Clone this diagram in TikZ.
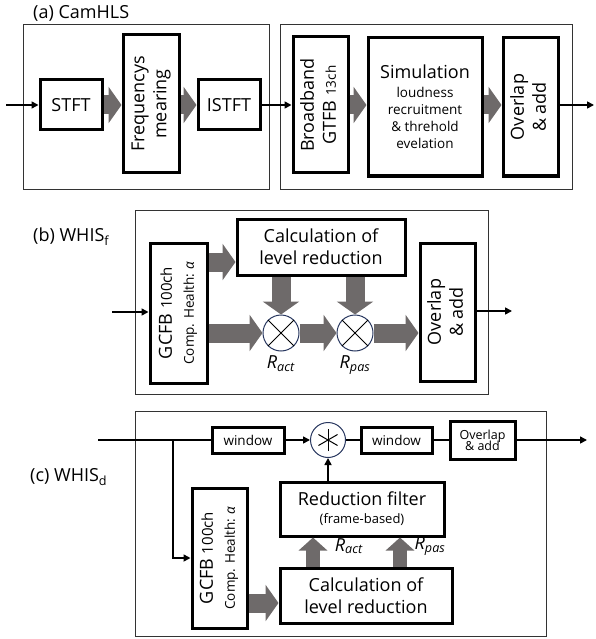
\documentclass[tikz,border=0pt]{standalone}
\usepackage{fontspec}
\setmainfont{Open Sans}
\usepackage{graphicx}
\usetikzlibrary{arrows.meta,positioning}

\definecolor{fatgray}{RGB}{110,106,106}
\definecolor{ringblue}{RGB}{40,55,95}

\newcommand\bigtxt{\fontsize{18}{22}\selectfont}
\newcommand\midtxt{\fontsize{15}{18}\selectfont}
\newcommand\smalltxt{\fontsize{13.5}{17}\selectfont}
\newcommand\tinytxt{\fontsize{12.5}{15}\selectfont}
\newcommand\vtext[1]{\rotatebox{90}{\begin{tabular}{@{}c@{}}#1\end{tabular}}}

\tikzset{
  box/.style={draw, line width=3pt, fill=white, inner sep=0pt, font=\bigtxt, align=center},
  panel/.style={draw=black!80, line width=0.9pt},
  fat/.style={draw=fatgray, line width=19pt, -{Triangle[length=13pt,width=36pt]}},
  fatup/.style={draw=fatgray, line width=14pt, -{Triangle[length=13pt,width=28pt]}},
  sig/.style={line width=1.6pt, -{Triangle[length=7pt,width=7pt]}},
  wire/.style={line width=1.6pt},
  mult/.style={circle, draw=ringblue, line width=1pt, minimum size=36pt, inner sep=0pt},
  title/.style={anchor=west, inner sep=0pt, font=\bigtxt}
}

\begin{document}
\begin{tikzpicture}[x=1pt,y=-1pt]
\useasboundingbox (0,0) rectangle (596,639);

% (a) CamHLS
\draw[panel] (23,24) rectangle (269,189);
\draw[panel] (280,24) rectangle (572,189);
\node[title] (title-a) at (33,13) {(a) CamHLS};
\node[box, minimum width=62pt, minimum height=50pt] (stft) at (71,105) {STFT};
\node[box, minimum width=56pt, minimum height=138pt] (freq) at (151,104) {\vtext{Frequencys\\mearing}};
\node[box, minimum width=62pt, minimum height=50pt] (istft) at (229,105) {ISTFT};
\node[box, minimum width=55pt, minimum height=136pt] (bband) at (320.5,105) {\vtext{Broadband\\GTFB {\smalltxt 13ch}}};
\node[box, minimum width=114pt, minimum height=138pt] (simu) at (425,107)
  {Simulation\\[-3pt]{\smalltxt loudness}\\[-5pt]{\smalltxt recruitment}\\[-5pt]{\smalltxt \& threhold}\\[-5pt]{\smalltxt evelation}};
\node[box, minimum width=55pt, minimum height=138pt] (ovl-a) at (530.5,107) {\vtext{Overlap\\\& add}};
\coordinate (in-a) at (6,105);
\coordinate (out-a) at (594,105);

\draw[sig] (in-a) -- (stft.west);
\draw[fat] (stft.east) -- (stft.east -| freq.west);
\draw[fat] (freq.east |- istft) -- (istft.west);
\draw[sig] (istft.east) -- (istft.east -| bband.west);
\draw[fat] (bband.east) -- (bband.east -| simu.west);
\draw[fat] (simu.east |- bband) -- (ovl-a.west |- bband);
\draw[sig] (ovl-a.east |- bband) -- (out-a);

% (b) WHIS_f
\draw[panel] (135,210) rectangle (488,394);
\node[title] (title-b) at (33,237) {(b) WHIS\textsubscript{f}};
\node[box, minimum width=57pt, minimum height=140pt] (gcfb-b) at (178.5,313)
  {\vtext{GCFB {\midtxt 100ch}\\\smalltxt Comp. Health: \textit{α}}};
\node[box, minimum width=168pt, minimum height=56pt] (calc-b) at (321,247) {Calculation of\\level reduction};
\node[mult] (mult1) at (281,333) {};
\node[mult] (mult2) at (355,333) {};
\node[box, minimum width=55pt, minimum height=138pt] (ovl-b) at (447.5,312) {\vtext{Overlap\\\& add}};
\node[font=\bigtxt, below=1pt of mult1] (ract-b) {\textit{R}\textsubscript{\textit{act}}};
\node[font=\bigtxt, below=1pt of mult2] (rpas-b) {\textit{R}\textsubscript{\textit{pas}}};
\coordinate (in-b) at (112,312);
\coordinate (out-b) at (512,311);
\coordinate (y262) at (0,262);

\foreach \m in {mult1,mult2}
  \draw[line width=1pt] (\m.north west) -- (\m.south east) (\m.north east) -- (\m.south west);
\draw[sig] (in-b) -- (in-b -| gcfb-b.west);
\draw[fat] (gcfb-b.east |- y262) -- (calc-b.west |- y262);
\draw[fat] (gcfb-b.east |- mult1) -- (mult1.west);
\draw[fat] (calc-b.south -| mult1) -- (mult1.north);
\draw[fat] (calc-b.south -| mult2) -- (mult2.north);
\draw[fat] (mult1.east) -- (mult2.west);
\draw[fat] (mult2.east) -- (mult2 -| ovl-b.west);
\draw[sig] (ovl-b.east |- out-b) -- (out-b);

% (c) WHIS_d
\draw[panel] (135,411) rectangle (546,636);
\node[title] (title-c) at (30,477) {(c) WHIS\textsubscript{d}};
\node[box, font=\smalltxt, minimum width=72pt, minimum height=26pt] (win1) at (248,440) {window};
\node[mult, minimum size=35pt] (conv) at (328,440) {};
\node[box, font=\smalltxt, minimum width=71pt, minimum height=26pt] (win2) at (396.5,440) {window};
\node[box, font=\tinytxt, minimum width=65pt, minimum height=38pt] (ovl-c) at (482.5,440) {Overlap\\[-4pt]\& add};
\node[box, minimum width=164pt, minimum height=54pt] (redf) at (362,509) {Reduction filter\\[-4pt]{\fontsize{13}{15}\selectfont (frame-based)}};
\node[box, minimum width=172pt, minimum height=55pt] (calc-c) at (366,595.5) {Calculation of\\level reduction};
\node[box, minimum width=55pt, minimum height=140pt] (gcfb-c) at (219.5,558)
  {\vtext{GCFB {\midtxt 100ch}\\\smalltxt Comp. Health: \textit{α}}};
\node[font=\bigtxt] (ract-c) at (349,546) {\textit{R}\textsubscript{\textit{act}}};
\node[font=\bigtxt] (rpas-c) at (430,546) {\textit{R}\textsubscript{\textit{pas}}};
\coordinate (in-c) at (98,440);
\coordinate (split) at (173,440);
\coordinate (out-c) at (587,440);
\coordinate (up1) at (313,0);
\coordinate (up2) at (400,0);
\coordinate (y603) at (0,603);

\foreach \a in {90,30,150}
  \draw[line width=1pt] (conv.center) +(\a:11) -- +(\a+180:11);
\draw[wire] (in-c) -- (win1.west);
\draw[sig] (split) |- (gcfb-c.west);
\draw[sig] (win1.east) -- (conv.west);
\draw[wire] (conv.east) -- (win2.west);
\draw[wire] (win2.east) -- (ovl-c.west);
\draw[sig] (ovl-c.east) -- (out-c);
\draw[sig] (redf.north -| conv) -- (conv.south);
\draw[fatup] (calc-c.north -| up1) -- (redf.south -| up1);
\draw[fatup] (calc-c.north -| up2) -- (redf.south -| up2);
\draw[fat] (gcfb-c.east |- y603) -- (calc-c.west |- y603);
\end{tikzpicture}
\end{document}
